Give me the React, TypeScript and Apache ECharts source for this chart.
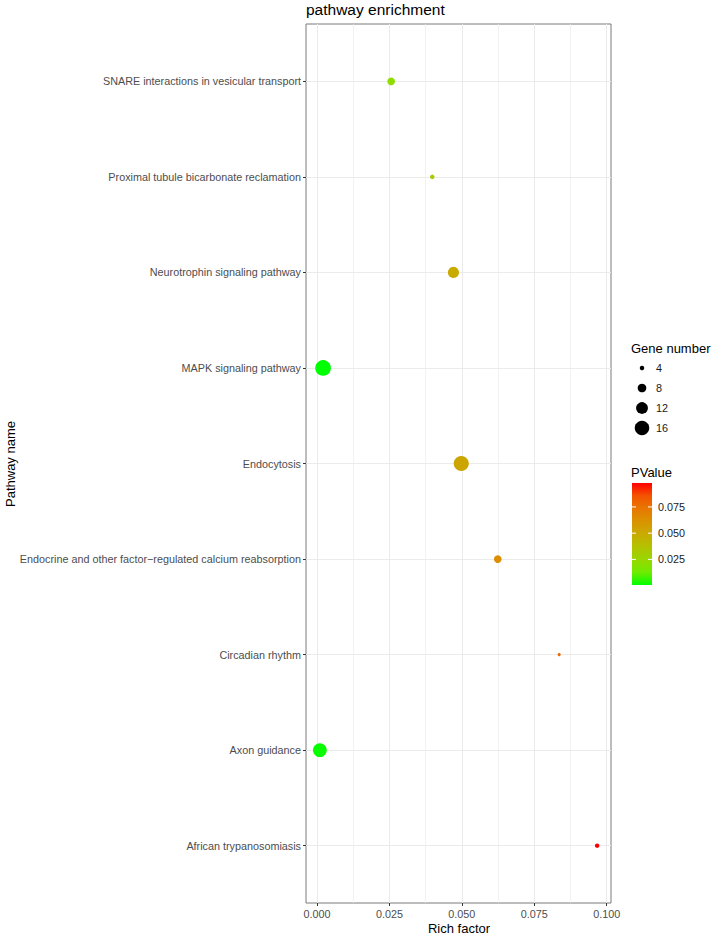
import React, { useEffect, useRef } from "react";
import * as echarts from "echarts";

// y categories, bottom to top
const pathways = [
  "African trypanosomiasis",
  "Axon guidance",
  "Circadian rhythm",
  "Endocrine and other factor\u2212regulated calcium reabsorption",
  "Endocytosis",
  "MAPK signaling pathway",
  "Neurotrophin signaling pathway",
  "Proximal tubule bicarbonate reclamation",
  "SNARE interactions in vesicular transport",
];
const richFactor = [0.0967, 0.001, 0.0836, 0.0624, 0.0498, 0.0021, 0.0471, 0.0398, 0.0256];
const geneNumber = [4, 15, 3, 7, 17, 18, 11, 4, 7];
const pValue = [0.0978, 0.0015, 0.079, 0.064, 0.052, 0.0006, 0.049, 0.033, 0.022];

const xTickValues = [0, 0.025, 0.05, 0.075, 0.1];
const xMinorValues = [0.0125, 0.0375, 0.0625, 0.0875];
const sizeLegendValues = [4, 8, 12, 16];
const pLegendTicks = [0.025, 0.05, 0.075];
const colorStops = ["#00FF00", "#70EB00", "#98D700", "#B3C200", "#C9AB00", "#DA9300", "#E87700", "#F45300", "#FF0000"];

const FONT = "'Liberation Sans', Arial, Helvetica, sans-serif";

function pointDiameter(n: number): number {
  return Math.max(2, -5.5 + 5 * Math.sqrt(n));
}

export default function App() {
  const ref = useRef<HTMLDivElement>(null);
  useEffect(() => {
    const chart = echarts.init(ref.current as HTMLDivElement, null, { renderer: "svg" });
    const rMin = Math.min(...richFactor);
    const rMax = Math.max(...richFactor);
    const xMin = rMin - 0.05 * (rMax - rMin);
    const xMax = rMax + 0.05 * (rMax - rMin);
    const yMin = -0.6;
    const yMax = pathways.length - 1 + 0.6;
    const pMin = Math.min(...pValue);
    const pMax = Math.max(...pValue);
    const data = pathways.map((_, i) => [richFactor[i], i, geneNumber[i], pValue[i]]);

    const barX = 632, barW = 20, barTop = 483, barBottom = 585;
    const pToY = (p: number) => barBottom - ((p - pMin) / (pMax - pMin)) * (barBottom - barTop);

    const graphics: any[] = [
      { type: "text", left: 306, top: 1, style: { text: "pathway enrichment", fontSize: 15.5, fontFamily: FONT, fill: "#000" } },
      { type: "text", x: 459, y: 928, style: { text: "Rich factor", fontSize: 13, fontFamily: FONT, fill: "#000", align: "center", verticalAlign: "middle" } },
      { type: "text", x: 10, y: 464, rotation: Math.PI / 2, style: { text: "Pathway name", fontSize: 13, fontFamily: FONT, fill: "#000", align: "center", verticalAlign: "middle" } },
      { type: "text", x: 631, y: 348, style: { text: "Gene number", fontSize: 13, fontFamily: FONT, fill: "#000", verticalAlign: "middle" } },
      { type: "text", x: 631, y: 472, style: { text: "PValue", fontSize: 13, fontFamily: FONT, fill: "#000", verticalAlign: "middle" } },
      {
        type: "rect",
        shape: { x: barX, y: barTop, width: barW, height: barBottom - barTop },
        style: {
          fill: new echarts.graphic.LinearGradient(0, 1, 0, 0, colorStops.map((c, i) => ({ offset: i / (colorStops.length - 1), color: c }))),
        },
      },
    ];
    sizeLegendValues.forEach((v, i) => {
      const cy = 368 + i * 20;
      graphics.push({ type: "circle", shape: { cx: 642, cy, r: pointDiameter(v) / 2 }, style: { fill: "#000" } });
      graphics.push({ type: "text", x: 656, y: cy, style: { text: String(v), fontSize: 10.8, fontFamily: FONT, fill: "#1a1a1a", verticalAlign: "middle" } });
    });
    pLegendTicks.forEach((p) => {
      const y = pToY(p);
      graphics.push({ type: "line", shape: { x1: barX, y1: y, x2: barX + barW / 5, y2: y }, style: { stroke: "#fff", lineWidth: 1 } });
      graphics.push({ type: "line", shape: { x1: barX + barW - barW / 5, y1: y, x2: barX + barW, y2: y }, style: { stroke: "#fff", lineWidth: 1 } });
      graphics.push({ type: "text", x: 658, y, style: { text: p.toFixed(3), fontSize: 10.8, fontFamily: FONT, fill: "#1a1a1a", verticalAlign: "middle" } });
    });

    const yTickValues = pathways.map((_, i) => i);

    chart.setOption({
      animation: false,
      grid: { left: 306, right: 104, top: 24, bottom: 31, show: true, borderColor: "#7a7a7a", borderWidth: 1, containLabel: false },
      xAxis: [
        {
          type: "value",
          min: xMin,
          max: xMax,
          position: "bottom",
          axisLine: { show: false, onZero: false },
          splitLine: { show: true, lineStyle: { color: "#EBEBEB", width: 1 } },
          axisTick: { show: true, customValues: xTickValues, length: 3, lineStyle: { color: "#333" } },
          axisLabel: { customValues: xTickValues, formatter: (v: number) => v.toFixed(3), color: "#4d4d4d", fontSize: 10.8, fontFamily: FONT, margin: 5 },
          z: 1,
        },
        {
          type: "value",
          min: xMin,
          max: xMax,
          position: "bottom",
          axisLine: { show: false, onZero: false },
          splitLine: { show: true, lineStyle: { color: "#EDEDED", width: 0.7 } },
          axisTick: { show: false, customValues: xMinorValues },
          axisLabel: { show: false, customValues: xMinorValues },
          z: 0,
        },
      ],
      yAxis: {
        type: "value",
        min: yMin,
        max: yMax,
        position: "left",
        axisLine: { show: false, onZero: false },
        splitLine: { show: true, lineStyle: { color: "#EBEBEB", width: 1 } },
        axisTick: { show: true, customValues: yTickValues, length: 3, lineStyle: { color: "#333" } },
        axisLabel: { customValues: yTickValues, formatter: (v: number) => pathways[Math.round(v)], color: "#4d4d4d", fontSize: 10.8, fontFamily: FONT, margin: 5 },
      },
      visualMap: {
        type: "continuous",
        show: false,
        dimension: 3,
        seriesIndex: 0,
        min: pMin,
        max: pMax,
        inRange: { color: colorStops },
      },
      series: [
        {
          type: "scatter",
          data,
          z: 5,
          xAxisIndex: 0,
          encode: { x: 0, y: 1 },
          symbolSize: (val: number[]) => pointDiameter(val[2]),
          itemStyle: { opacity: 1 },
        },
      ],
      graphic: graphics,
    });
    return () => chart.dispose();
  }, []);
  return <div ref={ref} style={{ position: "absolute", left: 0, top: 0, width: 715, height: 934 }} />;
}
